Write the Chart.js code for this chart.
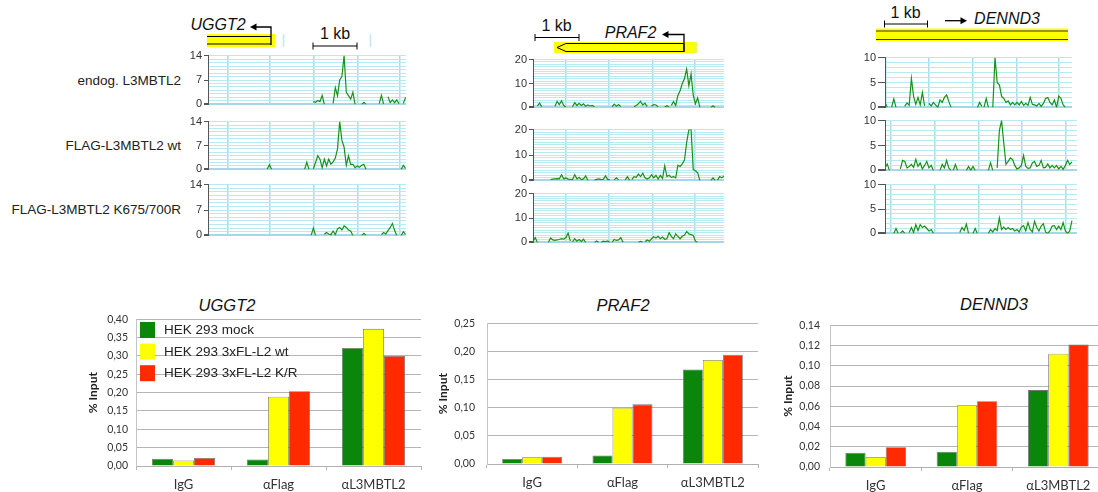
<!DOCTYPE html>
<html>
<head>
<meta charset="utf-8">
<script src="https://cdn.jsdelivr.net/npm/chart.js@4.4.1/dist/chart.umd.min.js"></script>
<style>
html, body { margin: 0; padding: 0; background: #fff; overflow: hidden; width: 1098px; height: 492px; }
body { position: relative; font-family: "Liberation Sans", Arial, sans-serif; color: #222; }
canvas, .t { position: absolute; }
.t { white-space: nowrap; line-height: 1; }
.gene { font-style: italic; font-size: 16px; color: #111; }
.kb { font-size: 16px; color: #111; }
.lane { font-size: 13.5px; color: #222; }
.btitle { font-style: italic; font-size: 16.5px; color: #111; }
</style>
</head>
<body>
<svg width="1098" height="492" style="position:absolute;left:0;top:0">
  <!-- UGGT2 -->
  <rect x="207" y="34" width="68" height="13" fill="#ffff00"/>
  <path d="M207 36.5H271M207 44H271" stroke="#000" stroke-width="1"/>
  <path d="M271 45V27H255" fill="none" stroke="#000" stroke-width="1.3"/>
  <path d="M250 27l6.5-3.5v7z" fill="#000"/>
  <path d="M283.5 34V47M370.5 34V47" stroke="#bfeaf2" stroke-width="1.5"/>
  <path d="M313 46H357M313 42.5V49.5M357 42.5V49.5" stroke="#000" stroke-width="1"/>
  <!-- PRAF2 -->
  <rect x="554" y="42" width="143" height="11" fill="#ffff00"/>
  <path d="M557 47.5L566 43.5H684V51.5H566Z" fill="none" stroke="#000" stroke-width="1"/>
  <path d="M684 52V34.5H667" fill="none" stroke="#000" stroke-width="1.3"/>
  <path d="M662 34.5l6.5-3.5v7z" fill="#000"/>
  <path d="M695.5 42V53" stroke="#bfeaf2" stroke-width="1.5"/>
  <path d="M535 37.5H579M535 34V41M579 34V41" stroke="#000" stroke-width="1"/>
  <!-- DENND3 -->
  <rect x="876" y="28.5" width="192" height="12.5" fill="#ffff00"/>
  <path d="M876 31H1068M876 39.5H1068" stroke="#333" stroke-width="1.2"/>
  <path d="M945 20.7H962" stroke="#000" stroke-width="1.3"/>
  <path d="M967 20.7l-6.5-3.5v7z" fill="#000"/>
  <path d="M884.5 24H927.5M884.5 20.5V27.5M927.5 20.5V27.5" stroke="#000" stroke-width="1"/>
</svg>
<script>
const _ = null;

// ChIP-seq tracks, reads per 50 bp bin, stored as [first bin, [values...]]
const trkUggt2Endog = [
  [48, [0.8, 0.6, 1.1, 0.8, 2.6, 0]],
  [57, [0.3, 4.8, 2.5, 7, 8, 14, 3.5, 2.5, 1.5, 3.5, 0]],
  [70, [0, 0.6, 0]],
  [78, [0.2, 2.6, 0.1]],
  [82, [2.2, 0.5, 1.3, 0.5, 1.3, 0.2]],
  [89, [0.3, 2]]
];
const trkUggt2Wt = [
  [27, [0.1, 1.4, 0]],
  [44, [0, 2.1, 0]],
  [48, [0.2, 2, 4, 3, 0.5, 3, 1, 3, 1.5, 2.2, 3.3, 6, 14, 8.5, 6.5, 1.2, 4, 1.5, 1.5, 0.5, 1, 0.6, 1.2, 1.5, 0]],
  [88, [0, 1.2, 0.3]]
];
const trkUggt2KR = [
  [47, [0, 2, 0]],
  [53, [0.3, 0.8, 0.4, 0.2, 1.2, 0.2, 1.8, 2.2, 1.5, 2.6, 2.2, 1.5, 1.2, 0]],
  [70, [0, 0.6, 0]],
  [79, [0.2, 0.8, 0.4, 1.3, 2.2, 3.3, 1.4, 0]],
  [88, [0, 1, 0.3]]
];

const trkPraf2Endog = [
  [2, [0.6, 1.8, 0.3]],
  [10, [0.5, 2.5, 1.2, 2.8, 0.8, 0.2]],
  [18, [0.3, 2, 0.8, 1.7, 0.8, 1.5, 0.5, 1, 0.6, 0.8, 0.3]],
  [36, [0.2, 1.4, 0.5, 1.2, 0.3]],
  [46, [0.3, 0.8, 1.5, 2.6, 1, 1.8, 0.3]],
  [54, [0.5, 1.2, 1, 0.3]],
  [60, [0.2, 0.7, 0.2]],
  [63, [0.8, 2.5, 0.8, 5, 7, 10, 12, 16, 9, 14, 5, 1.5, 4, 0]],
  [81, [0, 0.7, 0]]
];
const trkPraf2Wt = [
  [8, [0.3, 0.5, 0.6, 0.7, 0.6, 2.2, 0.6, 1, 0.5, 0.4, 0.3, 2.3, 0.6, 1.2, 0.3, 0.6, 1.8, 0]],
  [28, [0.1, 0.4, 0.6, 0.3, 0.4, 1.8, 0.4, 0.2]],
  [37, [0.2, 1, 0.2]],
  [42, [0.2, 1.5, 0]],
  [45, [0.3, 1.5, 1.2, 2.5, 1.5, 2.8, 1, 0.5, 1, 2.2, 1, 2, 0.5, 2, 0.8, 5.8, 1.5, 2, 1.2, 1.5, 1, 6, 5.5, 6.5, 8, 15, 20, 20, 4.2, 3.8, 3, 0]],
  [81, [0, 1, 0]],
  [84, [0, 1.5, 1, 1.8]]
];
const trkPraf2KR = [
  [0, [0.3, 2, 0]],
  [7, [0, 1.8, 1, 0.8, 1, 1.2, 1.5, 1.3, 2, 3.8, 0.5]],
  [18, [0.2, 1.5, 0.5, 1.2, 0.4, 1.3, 0]],
  [28, [0, 0.6, 0]],
  [31, [0, 0.5, 0.3, 0.6, 0]],
  [36, [0, 1.2, 0.8, 1, 2, 0]],
  [48, [0, 0.4, 0]],
  [51, [0.3, 1, 0.5, 1.5, 2.3, 1.8, 2.5, 1.5, 2.2, 1.3, 1.5, 4, 2.5, 1.5, 3.5, 2.5, 1.5, 2.5, 3, 4.5, 3.5, 3.2, 2.8, 0.5, 0]]
];

const trkDennd3Endog = [
  [0, [1.1, 0]],
  [3, [0, 1.7, 0]],
  [9, [0.2, 0.9, 0.4, 5.8, 2.2, 0.6, 2, 0.5, 3, 0.3]],
  [20, [0.8, 0.3, 1, 0.5, 0, 1.5, 1, 2, 2.5, 1.2, 0]],
  [42, [0, 1, 0.2]],
  [45, [0, 1.8, 0]],
  [49, [0, 10, 5, 4.5, 2.2, 1.8, 1, 1.3, 0.5, 1, 0.5, 1, 0.5, 1.2, 0.4, 0.8, 0.4, 2, 0.6, 0.5, 0.3, 0.8, 0.2, 0.8, 1.8, 2, 1, 0.5, 1.5, 0, 2.3, 1.8, 0.5, 0]]
];
const trkDennd3Wt = [
  [0, [0.5, 1.3, 0]],
  [7, [0.3, 2, 1.8, 0.5, 0.8, 1.2, 0.6, 2.2, 0.8, 1.5, 0.3, 1, 1.8, 0.5, 1, 0]],
  [25, [0, 1.2, 0.5, 2, 0.5, 0]],
  [31, [0, 1.2, 0]],
  [37, [0, 0.8, 0, 0.8, 0]],
  [47, [0, 1.5, 0]],
  [51, [0.5, 8, 10, 5.5, 1.2, 1.8, 2.5, 2.2, 1, 0.3, 0.5, 1, 3, 0.8, 0.4, 0.5, 1.5, 1.8, 0.8, 1, 2, 0.5, 0.6, 1.3, 0.5, 1, 0.5, 1, 0.3, 0.8, 0.2, 1, 2, 1.2, 1.7]]
];
const trkDennd3KR = [
  [4, [0, 1, 0]],
  [7, [0, 0.5, 0]],
  [11, [0.2, 1.2, 0.2, 1.8, 0.6, 1.8, 1.2, 1.5, 1, 0.5, 0.8, 0]],
  [34, [0.2, 1.2, 0.6, 1.9, 0]],
  [40, [0, 1, 0]],
  [47, [0, 0.8, 0.3, 1, 0.6, 3.2, 0.8, 1.3, 0.8, 1.2, 0.8, 1, 0.5, 0.8, 0.3, 1.3, 1.6, 0.5, 2.2, 0.8, 0.3, 2.5, 1.2, 0.5, 1.5, 2, 0.3, 0, 0.5, 1.5, 1.6, 0.8, 1.5, 0.8, 2.2, 0.5, 0, 0.5, 2.6]]
];

// 1 kb grid positions (in bins) for each locus
const gridUggt2 = [8.9, 28, 48, 68, 87.5];
const gridPraf2 = [15, 34.5, 54.5, 73.6];
const gridDennd3Top = [0.5, 20, 40, 60, 79];
const gridDennd3Low = [2.7, 22.7, 42.7, 62.3, 82.3];

// qPCR ChIP, % input
const categories = ['IgG', 'αFlag', 'αL3MBTL2'];
const seriesNames = ['HEK 293 mock', 'HEK 293 3xFL-L2 wt', 'HEK 293 3xFL-L2 K/R'];
const pctUggt2Mock = [0.020, 0.018, 0.322];
const pctUggt2Wt = [0.015, 0.189, 0.374];
const pctUggt2KR = [0.022, 0.204, 0.300];
const pctPraf2Mock = [0.009, 0.015, 0.168];
const pctPraf2Wt = [0.012, 0.100, 0.185];
const pctPraf2KR = [0.013, 0.106, 0.194];
const pctDennd3Mock = [0.014, 0.015, 0.076];
const pctDennd3Wt = [0.010, 0.061, 0.112];
const pctDennd3KR = [0.0196, 0.065, 0.121];

const barColors = ['#0a870a', '#ffff00', '#ff2a00'];

function text(str, x, y, cls, align) {
  const d = document.createElement('div');
  d.className = 't ' + cls;
  d.textContent = str;
  d.style.left = x + 'px';
  d.style.top = y + 'px';
  d.style.transform = align === 'right' ? 'translate(-100%,-50%)' : 'translate(-50%,-50%)';
  document.body.appendChild(d);
}

text('UGGT2', 218, 25, 'gene');
text('1 kb', 335, 34, 'kb');
text('1 kb', 556.5, 26, 'kb');
text('PRAF2', 630.5, 32.5, 'gene');
text('1 kb', 905.5, 12.5, 'kb');
text('DENND3', 1007, 18.5, 'gene');
text('endog. L3MBTL2', 181, 81, 'lane', 'right');
text('FLAG-L3MBTL2 wt', 181, 146, 'lane', 'right');
text('FLAG-L3MBTL2 K675/700R', 181, 210, 'lane', 'right');
text('UGGT2', 227, 305, 'btitle');
text('PRAF2', 623, 305, 'btitle');
text('DENND3', 994, 304, 'btitle');

function canvasAt(left, top, w, h) {
  const cv = document.createElement('canvas');
  cv.width = w; cv.height = h;
  cv.style.left = left + 'px';
  cv.style.top = top + 'px';
  document.body.appendChild(cv);
  return cv;
}

function trackPoints(segs) {
  const pts = [];
  segs.forEach(([start, vals]) => {
    vals.forEach((v, i) => pts.push({x: start + i, y: v}));
    pts.push({x: start + vals.length - 0.5, y: _});
  });
  return pts;
}

function makeTrack(t) {
  const padT = 7, padB = 7;
  const cv = canvasAt(t.x - t.axisW, t.y - padT, t.axisW + t.w + 2, padT + t.h + padB);
  new Chart(cv, {
    type: 'line',
    data: {
      datasets: [{
        data: trackPoints(t.data),
        borderColor: '#179217',
        borderWidth: 1.2,
        pointRadius: 0,
        tension: 0
      }]
    },
    options: {
      responsive: false,
      animation: false,
      events: [],
      layout: { padding: { top: padT, bottom: padB, left: 0, right: 2 } },
      plugins: { legend: { display: false }, tooltip: { enabled: false } },
      scales: {
        x: {
          type: 'linear', min: 0, max: t.bins,
          afterFit: (s) => { s.height = 0; },
          afterBuildTicks: (s) => { s.ticks = t.grid.map(v => ({ value: v })); },
          ticks: { display: false },
          border: { display: false },
          grid: { color: '#a8deea', lineWidth: 1.5, drawTicks: false }
        },
        y: {
          min: 0, max: t.max,
          afterFit: (s) => { s.width = t.axisW; },
          ticks: {
            stepSize: 1, autoSkip: false, padding: 2, color: '#333',
            font: { size: 11, family: 'Liberation Sans' },
            callback: (v) => v % t.major === 0 ? v : ''
          },
          border: { color: '#555' },
          grid: {
            color: (c) => c.tick && c.tick.value === 0 ? '#a4d8e8' : '#b8eaf2',
            lineWidth: (c) => c.tick && c.tick.value === 0 ? 2 : 1,
            tickLength: t.tickLen,
            tickColor: (c) => c.tick && c.tick.value % t.major === 0 ? '#555' : 'rgba(0,0,0,0)'
          }
        }
      }
    }
  });
}

const lanes = [
  { data: trkUggt2Endog, x: 207.5, y: 54, w: 198.5, h: 52.5, bins: 90.2, max: 14, major: 7, grid: gridUggt2, axisW: 26, tickLen: 4 },
  { data: trkUggt2Wt, x: 207.5, y: 119.5, w: 198.5, h: 51.5, bins: 90.2, max: 14, major: 7, grid: gridUggt2, axisW: 26, tickLen: 4 },
  { data: trkUggt2KR, x: 207.5, y: 182.7, w: 198.5, h: 54, bins: 90.2, max: 14, major: 7, grid: gridUggt2, axisW: 26, tickLen: 4 },
  { data: trkPraf2Endog, x: 533, y: 58, w: 191.5, h: 51.3, bins: 87, max: 20, major: 10, grid: gridPraf2, axisW: 26, tickLen: 4 },
  { data: trkPraf2Wt, x: 533, y: 128, w: 191.5, h: 54, bins: 87, max: 20, major: 10, grid: gridPraf2, axisW: 26, tickLen: 4 },
  { data: trkPraf2KR, x: 533, y: 192, w: 191.5, h: 52.7, bins: 87, max: 20, major: 10, grid: gridPraf2, axisW: 26, tickLen: 4 },
  { data: trkDennd3Endog, x: 885, y: 56, w: 187, h: 53, bins: 85, max: 10, major: 5, grid: gridDennd3Top, axisW: 30, tickLen: 7 },
  { data: trkDennd3Wt, x: 885, y: 119.3, w: 192, h: 53.4, bins: 87.3, max: 10, major: 5, grid: gridDennd3Low, axisW: 30, tickLen: 7 },
  { data: trkDennd3KR, x: 885, y: 183.3, w: 192, h: 52.7, bins: 87.3, max: 10, major: 5, grid: gridDennd3Low, axisW: 30, tickLen: 7 }
];
lanes.forEach(makeTrack);

const insideLegend = {
  id: 'insideLegend',
  afterDatasetsDraw(chart, args, opts) {
    if (!opts.show) return;
    const { ctx, chartArea } = chart;
    ctx.save();
    ctx.font = '13.5px "Liberation Sans", Arial, sans-serif';
    ctx.textBaseline = 'middle';
    chart.data.datasets.forEach((ds, i) => {
      const y = chartArea.top + 2.7 + i * 21.6;
      ctx.fillStyle = ds.backgroundColor;
      ctx.fillRect(chartArea.left + 4, y, 15, 16);
      ctx.fillStyle = '#222';
      ctx.fillText(ds.label, chartArea.left + 28, y + 8.5);
    });
    ctx.restore();
  }
};

function makeBars(b) {
  const padT = 8, xH = 32;
  const cv = canvasAt(b.left, b.top - padT, b.axisW + b.w + 2, padT + b.h + xH);
  new Chart(cv, {
    type: 'bar',
    data: {
      labels: categories,
      datasets: b.values.map((vals, k) => ({
        label: seriesNames[k],
        data: vals,
        backgroundColor: barColors[k],
        borderColor: 'rgba(70,70,70,0.75)',
        borderWidth: 0.8,
        categoryPercentage: 0.664,
        barPercentage: 1
      }))
    },
    plugins: [insideLegend],
    options: {
      responsive: false,
      animation: false,
      events: [],
      layout: { padding: { top: padT, right: 2, left: 0, bottom: 0 } },
      plugins: { legend: { display: false }, tooltip: { enabled: false }, insideLegend: { show: b.legend } },
      scales: {
        x: {
          afterFit: (s) => { s.height = xH; },
          grid: { drawOnChartArea: false, tickLength: 4, color: '#b5b5b5' },
          border: { color: '#b0b0b0' },
          ticks: { padding: 7.5, color: '#333', font: { family: 'Lato', size: 13 } }
        },
        y: {
          min: 0, max: b.max,
          afterFit: (s) => { s.width = b.axisW; },
          ticks: {
            stepSize: b.step, padding: b.pad, color: '#333',
            font: { family: 'Lato', size: 10.5 },
            callback: (v) => v.toFixed(2).replace('.', ',')
          },
          grid: { color: '#b5b5b5', drawTicks: false },
          border: { color: '#c4c4c4' },
          title: { display: true, text: '% Input', color: '#222', padding: 0, font: { family: 'Lato', weight: 'bold', size: 12 } }
        }
      }
    }
  });
}

makeBars({ values: [pctUggt2Mock, pctUggt2Wt, pctUggt2KR], left: 86, axisW: 50, pad: 8, top: 313, w: 285, h: 153, max: 0.40, step: 0.05, legend: true });
makeBars({ values: [pctPraf2Mock, pctPraf2Wt, pctPraf2KR], left: 436, axisW: 51, pad: 12, top: 313, w: 271, h: 151, max: 0.25, step: 0.05, legend: false });
makeBars({ values: [pctDennd3Mock, pctDennd3Wt, pctDennd3KR], left: 781, axisW: 49, pad: 10, top: 317, w: 274, h: 150, max: 0.14, step: 0.02, legend: false });
</script>
</body>
</html>
